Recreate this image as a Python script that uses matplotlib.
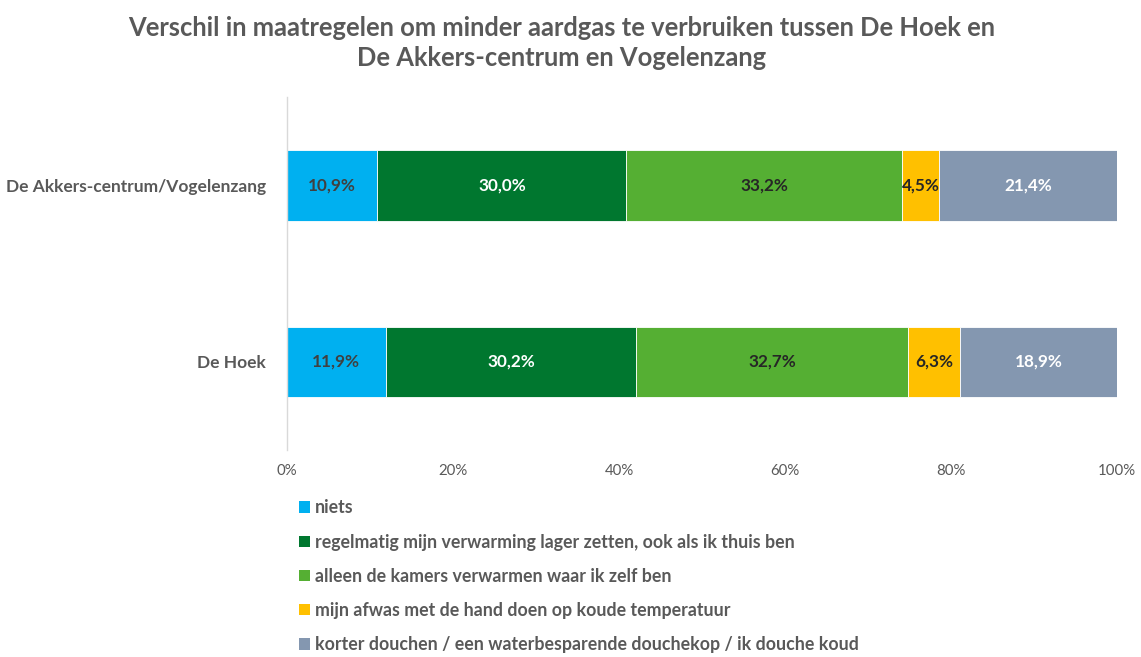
import matplotlib
matplotlib.use("Agg")
import matplotlib.pyplot as plt
from matplotlib.patches import Patch
from matplotlib.ticker import FuncFormatter

plt.rcParams['font.family'] = ['Lato', 'DejaVu Sans']

categories = ["De Hoek", "De Akkers-centrum/Vogelenzang"]
series_names = [
    "niets",
    "regelmatig mijn verwarming lager zetten, ook als ik thuis ben",
    "alleen de kamers verwarmen waar ik zelf ben",
    "mijn afwas met de hand doen op koude temperatuur",
    "korter douchen / een waterbesparende douchekop / ik douche koud",
]
# values per series: [De Hoek, De Akkers-centrum/Vogelenzang]
niets = [11.9, 10.9]
verwarming_lager = [30.2, 30.0]
kamers = [32.7, 33.2]
afwas = [6.3, 4.5]
douchen = [18.9, 21.4]
series_values = [niets, verwarming_lager, kamers, afwas, douchen]

colors = ["#00B0F0", "#00772F", "#55AF33", "#FFC000", "#8497B0"]
label_colors = ["#404040", "white", "#262626", "#262626", "white"]
title = "Verschil in maatregelen om minder aardgas te verbruiken tussen De Hoek en\nDe Akkers-centrum en Vogelenzang"

gray = "#595959"
fig = plt.figure(figsize=(11.41, 6.57), dpi=100)
ax = fig.add_axes([0.2515, 0.315, 0.7275, 0.537])

ypos = list(range(len(categories)))
left = [0.0] * len(categories)
for name, vals, c, lc in zip(series_names, series_values, colors, label_colors):
    bars = ax.barh(ypos, vals, left=left, height=0.4, color=c, label=name,
                   edgecolor="white", linewidth=0.6)
    for b, v in zip(bars, vals):
        ax.text(b.get_x() + b.get_width() / 2, b.get_y() + b.get_height() / 2,
                f"{v:.1f}%".replace(".", ","), ha="center", va="center",
                color=lc, fontsize=12.3, fontweight="bold")
    left = [l + v for l, v in zip(left, vals)]

ax.set_xlim(0, 100)
ax.set_ylim(-0.5, 1.5)
ax.set_yticks(ypos)
ax.set_yticklabels(categories, fontsize=12.5, fontweight="bold", color=gray)
ax.set_xticks(range(0, 101, 20))
ax.xaxis.set_major_formatter(FuncFormatter(lambda x, p: f"{int(x)}%"))
ax.tick_params(axis="x", colors=gray, labelsize=10.8, length=0, pad=10)
ax.tick_params(axis="y", length=0, pad=15)
for s in ["top", "right", "bottom"]:
    ax.spines[s].set_visible(False)
ax.spines["left"].set_color("#D9D9D9")
ax.spines["left"].set_linewidth(1)

fig.suptitle(title, x=0.492, y=0.975, fontsize=18.4, fontweight="bold", color=gray,
             linespacing=1.3)

handles = [Patch(facecolor=c, edgecolor="none") for c in colors]
leg = fig.legend(handles, series_names, loc="upper left", bbox_to_anchor=(0.262, 0.240),
                 frameon=False, ncol=1, fontsize=12.8, handlelength=0.6, handleheight=0.6,
                 handletextpad=0.3, labelspacing=0.97, borderaxespad=0, borderpad=0)
for t in leg.get_texts():
    t.set_color(gray)
    t.set_fontweight("bold")

fig.savefig("out.png", dpi=100, facecolor="white")
